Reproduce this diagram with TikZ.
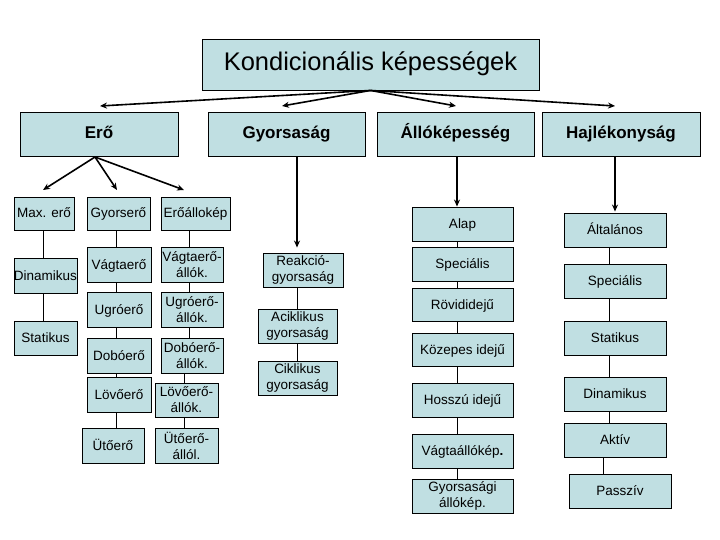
\documentclass[tikz,border=0pt]{standalone}
\usepackage{fontspec}
\setmainfont{Liberation Sans}
\usetikzlibrary{arrows.meta,calc}
\definecolor{boxfill}{RGB}{192,223,226}
\newcommand\bx[7][bx]{\node[#1, minimum width={(#5-#3)*1pt}, minimum height={(#6-#4)*1pt}] (#2) at ({(#3+#5)/2},{(#4+#6)/2}) {#7};}
\begin{document}
\begin{tikzpicture}[x=1pt,y=-1pt,
  bx2/.style={draw=black, line width=0.9pt, fill=boxfill, inner sep=0pt, align=center, font=\fontsize{13.5}{16}\selectfont},
  bx/.style={bx2, text height=11pt, text depth=2pt},
  hd/.style={bx2, font=\fontsize{17}{20}\selectfont\bfseries, text height=13pt, text depth=3.3pt},
  tt/.style={bx2, font=\fontsize{25.5}{30}\selectfont, text height=18.5pt, text depth=5.5pt},
  arr/.style={line width=1.6pt, -{Stealth[length=7pt,width=6pt]}},
  ln/.style={line width=0.9pt}]
\useasboundingbox[fill=white] (0,0) rectangle (720,540);
% title and level 1
\bx[tt]{title}{202}{39}{539}{90}{Kondicionális képességek}
\bx[hd]{ero}{20}{112}{178}{156}{Erő}
\bx[hd]{gy}{208}{112}{365}{156}{Gyorsaság}
\bx[hd]{allo}{377}{112}{534}{156}{Állóképesség}
\bx[hd]{hajl}{542}{112}{700}{156}{Hajlékonyság}
\coordinate (t1) at (100,106);
\coordinate (t2) at (282,106);
\coordinate (t3) at (456,106);
\coordinate (t4) at (615,106);
\draw[arr] (title.south) -- (t1);
\draw[arr] (title.south) -- (t2);
\draw[arr] (title.south) -- (t3);
\draw[arr] (title.south) -- (t4);
% Erő columns
\bx{maxero}{14}{197}{74}{230}{Max. erő}
\bx{dinam}{14}{258}{77}{293}{Dinamikus}
\bx{stat}{14}{321}{77}{355}{Statikus}
\bx{gyorsero}{87}{197}{150}{230}{Gyorserő}
\bx{vagtaero}{87}{247}{151}{282}{Vágtaerő}
\bx{ugroero}{87}{292}{151}{327}{Ugróerő}
\bx{doboero}{87}{338}{151}{373}{Dobóerő}
\bx{lovoero}{87}{377}{151}{412}{Lövőerő}
\bx{utoero}{82}{428}{144}{463}{Ütőerő}
\bx{eroallo}{161}{197}{230}{230}{Erőállokép}
\bx[bx2]{vagtaa}{161}{247}{223}{282}{Vágtaerő-\\állók.}
\bx[bx2]{ugroa}{161}{292}{223}{327}{Ugróerő-\\állók.}
\bx[bx2]{doboa}{161}{338}{223}{373}{Dobóerő-\\állók.}
\bx[bx2]{lovoa}{155}{383}{218}{417}{Lövőerő-\\állók.}
\bx[bx2]{utoa}{155}{428}{218}{463}{Ütőerő-\\állól.}
\coordinate (s0) at (95,157);
\coordinate (s1) at (43,190);
\coordinate (s2) at (117,190);
\coordinate (s3) at (184,190);
\draw[arr] (s0) -- (s1);
\draw[arr] (s0) -- (s2);
\draw[arr] (s0) -- (s3);
\coordinate (ex1) at (43,0);
\coordinate (ex2) at (116,0);
\coordinate (ex3) at (189,0);
\coordinate (ex4) at (184,0);
\draw[ln] (maxero.south -| ex1) -- (dinam.north -| ex1);
\draw[ln] (dinam.south -| ex1) -- (stat.north -| ex1);
\draw[ln] (gyorsero.south -| ex2) -- (vagtaero.north -| ex2);
\draw[ln] (vagtaero.south -| ex2) -- (ugroero.north -| ex2);
\draw[ln] (ugroero.south -| ex2) -- (doboero.north -| ex2);
\draw[ln] (doboero.south -| ex2) -- (lovoero.north -| ex2);
\draw[ln] (lovoero.south -| ex2) -- (utoero.north -| ex2);
\draw[ln] (eroallo.south -| ex3) -- (vagtaa.north -| ex3);
\draw[ln] (vagtaa.south -| ex3) -- (ugroa.north -| ex3);
\draw[ln] (ugroa.south -| ex3) -- (doboa.north -| ex3);
\draw[ln] (doboa.south -| ex4) -- (lovoa.north -| ex4);
\draw[ln] (lovoa.south -| ex4) -- (utoa.north -| ex4);
% Gyorsaság column
\bx[bx2]{reakcio}{263}{253}{343}{287}{Reakció-\\gyorsaság}
\bx[bx2]{acikl}{258}{309}{337}{343}{Aciklikus\\gyorsaság}
\bx[bx2]{cikl}{258}{361}{337}{395}{Ciklikus\\gyorsaság}
\coordinate (gx) at (297,0);
\draw[arr, shorten >=5pt] (gy.south -| gx) -- (reakcio.north -| gx);
\draw[ln] (reakcio.south -| gx) -- (acikl.north -| gx);
\draw[ln] (acikl.south -| gx) -- (cikl.north -| gx);
% Állóképesség column
\bx{alap}{412}{207}{513}{241}{Alap}
\bx{spec}{412}{247}{513}{281}{Speciális}
\bx{rovid}{412}{288}{513}{321}{Rövididejű}
\bx{kozep}{412}{333}{513}{366}{Közepes idejű}
\bx{hosszu}{412}{383}{513}{417}{Hosszú idejű}
\bx{vagtaallo}{412}{434}{513}{468}{Vágtaállókép{\bfseries .}}
\bx[bx2]{gyallo}{412}{479}{513}{513}{Gyorsasági\\állókép.}
\coordinate (ax) at (457,0);
\draw[arr] (allo.south -| ax) -- (alap.north -| ax);
\draw[ln] (alap.south -| ax) -- (spec.north -| ax);
\draw[ln] (spec.south -| ax) -- (rovid.north -| ax);
\draw[ln] (rovid.south -| ax) -- (kozep.north -| ax);
\draw[ln] (kozep.south -| ax) -- (hosszu.north -| ax);
\draw[ln] (hosszu.south -| ax) -- (vagtaallo.north -| ax);
\draw[ln] (vagtaallo.south -| ax) -- (gyallo.north -| ax);
% Hajlékonyság column
\bx{altal}{564}{213}{666}{247}{Általános}
\bx{spec2}{564}{264}{666}{298}{Speciális}
\bx{stat2}{564}{321}{666}{355}{Statikus}
\bx{dinam2}{564}{377}{666}{411}{Dinamikus}
\bx{aktiv}{564}{423}{666}{457}{Aktív}
\bx{passziv}{569}{474}{671}{508}{Passzív}
\coordinate (hx) at (615,0);
\coordinate (hx2) at (609,0);
\coordinate (hx3) at (603,0);
\draw[arr, shorten >=1pt] (hajl.south -| hx) -- (altal.north -| hx);
\draw[ln] (altal.south -| hx2) -- (spec2.north -| hx2);
\draw[ln] (spec2.south -| hx2) -- (stat2.north -| hx2);
\draw[ln] (stat2.south -| hx2) -- (dinam2.north -| hx2);
\draw[ln] (dinam2.south -| hx2) -- (aktiv.north -| hx2);
\draw[ln] (aktiv.south -| hx3) -- (passziv.north -| hx3);
\end{tikzpicture}
\end{document}
